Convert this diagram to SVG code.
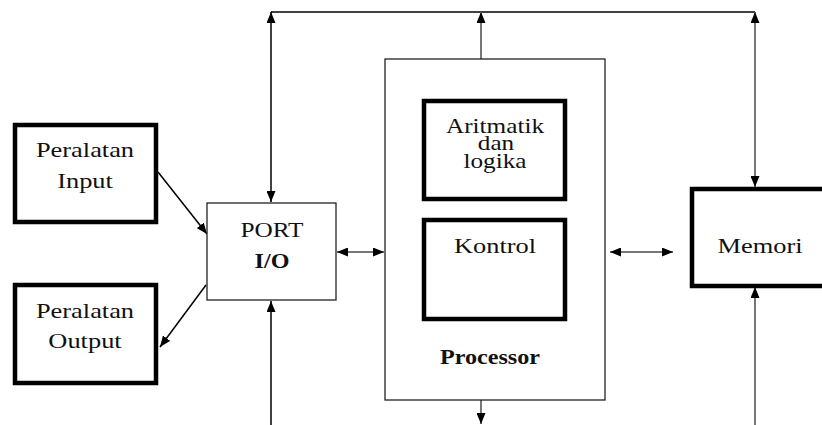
<svg xmlns="http://www.w3.org/2000/svg" width="822" height="425" viewBox="0 0 822 425">
<style>
  .t { font-family: "Liberation Serif", "Times New Roman", serif; font-size: 22px; fill: #111; text-anchor: middle; }
  .s { font-size: 21px; }
  .b { font-weight: bold; font-size: 21px; }
  .thick { fill: #fff; stroke: #000; stroke-width: 4.5; }
  .thin { fill: #fff; stroke: #222; stroke-width: 1.3; }
  .c { fill: none; stroke: #000; stroke-width: 1.5; }
  .g { fill: none; stroke: #777; stroke-width: 2; }
</style>
<defs>
  <marker id="ah" viewBox="0 0 11 9" refX="11" refY="4.5" markerWidth="11" markerHeight="9" markerUnits="userSpaceOnUse" orient="auto-start-reverse">
    <path d="M0,0 L11,4.5 L0,9 z" fill="#000"/>
  </marker>
</defs>
<rect width="822" height="425" fill="#fff"/>
<g id="connectors">
  <path class="c" d="M271,12 H755"/>
  <path class="c" d="M271,12 V202" marker-start="url(#ah)" marker-end="url(#ah)"/>
  <path class="g" d="M481,59 V12" marker-end="url(#ah)"/>
  <path class="g" d="M755,12 V187" marker-start="url(#ah)" marker-end="url(#ah)"/>
  <path class="g" d="M755,425 V287" marker-end="url(#ah)"/>
  <path class="c" d="M271,425 V301" marker-end="url(#ah)"/>
  <path class="g" d="M481,397 V424" marker-end="url(#ah)"/>
  <path class="g" d="M337,252 H384" marker-start="url(#ah)" marker-end="url(#ah)"/>
  <path class="g" d="M610,252 H673" marker-start="url(#ah)" marker-end="url(#ah)"/>
  <path class="c" d="M158,172 L207,234" marker-end="url(#ah)"/>
  <path class="c" d="M206,285 L160,347" marker-end="url(#ah)"/>
</g>
<g id="processor">
  <rect class="thin" x="385" y="59" width="220" height="341"/>
  <text class="t b" transform="translate(490,364) scale(1.15,1)">Processor</text>
</g>
<g id="alu">
  <rect class="thick" x="424" y="101" width="141" height="98"/>
  <text class="t s" transform="translate(495,133) scale(1.2,1)">Aritmatik</text>
  <text class="t s" transform="translate(496,150) scale(1.2,1)">dan</text>
  <text class="t s" transform="translate(495,168) scale(1.2,1)">logika</text>
</g>
<g id="kontrol">
  <rect class="thick" x="424" y="220" width="141" height="99"/>
  <text class="t" transform="translate(495,253) scale(1.2,1)">Kontrol</text>
</g>
<g id="port">
  <rect class="thin" x="207" y="203" width="129" height="97"/>
  <text class="t" transform="translate(272,237) scale(1.15,1)">PORT</text>
  <text class="t b" transform="translate(272,268) scale(1.15,1)">I/O</text>
</g>
<g id="input">
  <rect class="thick" x="15" y="125" width="141" height="97"/>
  <text class="t" transform="translate(85,157) scale(1.2,1)">Peralatan</text>
  <text class="t" transform="translate(85,188) scale(1.2,1)">Input</text>
</g>
<g id="output">
  <rect class="thick" x="15" y="285" width="141" height="98"/>
  <text class="t" transform="translate(85,318) scale(1.2,1)">Peralatan</text>
  <text class="t" transform="translate(85,348) scale(1.2,1)">Output</text>
</g>
<g id="memori">
  <rect class="thick" x="692" y="189" width="134" height="97"/>
  <text class="t" transform="translate(760,253) scale(1.2,1)">Memori</text>
</g>
</svg>
